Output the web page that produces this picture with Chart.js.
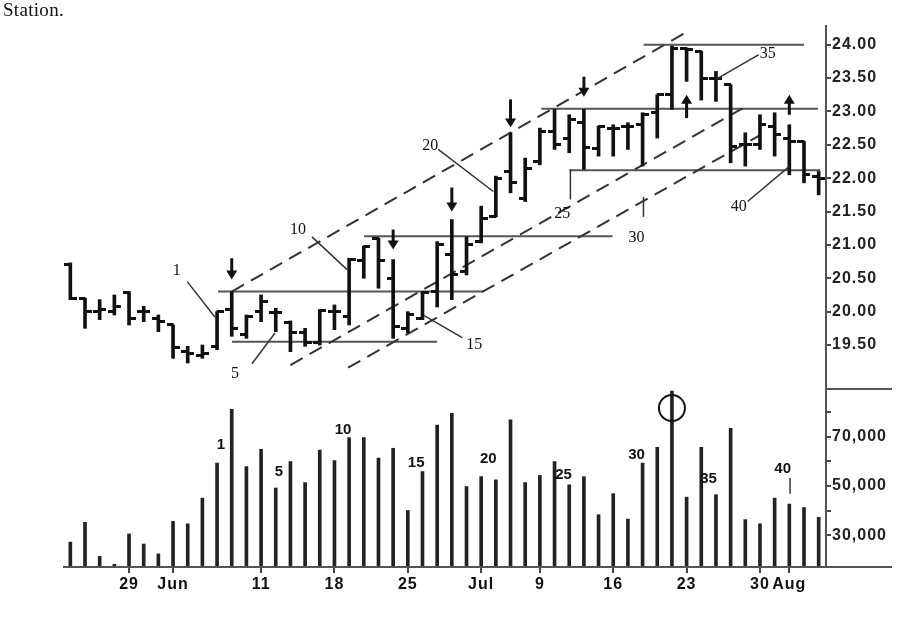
<!DOCTYPE html>
<html><head><meta charset="utf-8">
<script src="https://cdn.jsdelivr.net/npm/chart.js@4.4.1/dist/chart.umd.min.js"></script>
<style>
html,body{margin:0;padding:0;background:#fff;}
#wrap{position:relative;width:920px;height:618px;overflow:hidden;}
#title{position:absolute;left:3px;top:-1px;font:19px "Liberation Serif",serif;color:#111;letter-spacing:0.3px;}
canvas{position:absolute;left:0;top:0;}
</style></head><body>
<div id="wrap"><canvas id="c" width="920" height="618"></canvas><div id="title">Station.</div></div>
<script>
const dates = ['May 22','May 23','May 24','May 25','May 29','May 30','May 31','Jun 1','Jun 4','Jun 5','Jun 6','Jun 7','Jun 8','Jun 11','Jun 12','Jun 13','Jun 14','Jun 15','Jun 18','Jun 19','Jun 20','Jun 21','Jun 22','Jun 25','Jun 26','Jun 27','Jun 28','Jun 29','Jul 2','Jul 3','Jul 5','Jul 6','Jul 9','Jul 10','Jul 11','Jul 12','Jul 13','Jul 16','Jul 17','Jul 18','Jul 19','Jul 20','Jul 23','Jul 24','Jul 25','Jul 26','Jul 27','Jul 30','Jul 31','Aug 1','Aug 2','Aug 3'];
const tickIdx  = [4,7,13,18,23,28,32,37,42,47,49];
const tickText = ['29','Jun','11','18','25','Jul','9','16','23','30','Aug'];

const openP  = [20.70,20.20,20.00,20.00,20.29,20.00,19.90,19.80,19.40,19.35,19.48,20.03,19.65,20.00,19.98,19.83,19.68,19.53,20.00,19.93,20.77,21.10,20.50,19.75,19.90,20.30,20.85,20.60,21.05,21.42,22.10,21.70,22.25,22.70,22.60,22.83,22.45,22.75,22.78,22.80,22.98,23.25,23.95,23.90,23.50,23.40,22.50,22.50,22.78,22.60,22.55,22.03];
const highP  = [20.73,20.20,20.18,20.25,20.30,20.08,19.95,19.80,19.48,19.50,20.00,20.30,19.95,20.25,20.05,19.86,19.75,20.03,20.10,20.80,20.98,21.10,20.78,20.00,20.30,21.05,21.38,21.12,21.58,22.03,22.68,22.30,22.75,23.03,22.95,23.03,22.78,22.80,22.83,22.98,23.25,23.98,23.95,23.90,23.60,23.40,22.68,22.95,22.98,22.80,22.55,22.10];
const lowP   = [20.18,19.75,19.88,19.95,19.80,19.85,19.70,19.30,19.23,19.30,19.43,19.63,19.60,19.85,19.70,19.40,19.48,19.50,19.73,19.80,20.50,20.35,19.60,19.68,19.88,20.07,20.18,20.55,21.03,21.42,21.78,21.65,22.20,22.43,22.38,22.13,22.33,22.33,22.43,22.18,22.60,23.03,23.45,23.17,23.15,22.23,22.18,22.43,22.33,22.05,21.93,21.75];
const closeP = [20.20,20.00,20.03,20.08,19.90,20.00,19.85,19.46,19.38,19.38,20.00,19.75,19.93,20.15,19.98,19.68,19.53,20.02,20.00,20.78,20.97,20.77,19.78,19.95,20.28,21.00,20.55,21.00,21.40,22.00,21.93,22.15,22.70,22.50,22.88,22.46,22.77,22.75,22.78,22.95,23.25,23.95,23.93,23.50,23.50,22.48,22.50,22.80,22.65,22.55,22.05,22.00];
const volume = [27300,35300,21500,18300,30600,26500,22500,35700,34700,45100,59300,81100,57900,64900,49200,59900,51400,64600,60300,69600,69600,61300,65300,40100,55900,74700,79500,49800,53800,52500,76800,51400,54300,59900,50500,53800,38400,46900,36600,59300,65700,88500,45500,65700,46500,73400,36400,34700,45100,42700,41300,37300];

const priceTicks = [19.5,20,20.5,21,21.5,22,22.5,23,23.5,24];
const volTicks = [30000,40000,50000,60000,70000,80000];
const volLabelled = [30000,50000,70000];

// annotation values (bar index, price / volume)
const channelLines = [[11.0,20.30,42.1,24.20],[15.0,19.20,46.0,23.07],[18.93,19.16,47.05,22.65]];
const levelLines = [[20.30,10.07,28.15],[19.55,11.01,25.0],[21.13,20.02,36.95],[23.04,32.1,50.95],[22.12,34.02,51.1],[24.00,39.07,50.0]];
const leaders = [[7.97,20.45,9.85,19.92],[12.38,19.22,13.95,19.68],[16.47,21.12,18.86,20.63],[24.12,19.94,26.71,19.61],[25.07,22.43,28.83,21.80],[34.08,22.13,34.08,21.68],[39.06,21.72,39.06,21.42],[44.0,23.48,46.92,23.85],[46.16,21.65,48.96,22.17]];
const priceLabels = [['1',7.26,20.61],['5',11.22,19.07],['10',15.52,21.23],['15',27.53,19.50],['20',24.53,22.49],['25',33.53,21.47],['30',38.59,21.10],['35',47.53,23.87],['40',45.55,21.57]];
const volLabels = [['1',10.26,66650],['5',14.22,55740],['10',18.59,72700],['15',23.57,59380],['20',28.49,61000],['25',33.61,54530],['30',38.59,62600],['35',43.5,52900],['40',48.55,56950]];
const volLeader = [49.05,53300,49.05,46850];
const downArrows = [[11,20.80,20.48],[22,21.23,20.93],[26,21.86,21.50],[30,23.18,22.76],[35,23.52,23.22]];
const upArrows = [[42,22.90,23.25],[49,22.95,23.25]];
const circleMark = [41,81600];

function tickImg(side){
  const c=document.createElement('canvas'); c.width=13; c.height=3;
  const g=c.getContext('2d'); g.fillStyle='#111';
  if(side<0) g.fillRect(0,0,7,3); else g.fillRect(6,0,7,3);
  return c;
}

const spacing = {
  id:'spacing',
  beforeLayout(chart){ chart.ctx.letterSpacing='1px'; },
  beforeDraw(chart){ chart.ctx.letterSpacing='1px'; }
};

const annot = {
  id:'annot',
  afterDatasetsDraw(chart){
    const ctx=chart.ctx, xs=chart.scales.xA, yp=chart.scales.yP, yv=chart.scales.yV, ca=chart.chartArea;
    const X=i=>xs.getPixelForValue(i), P=v=>yp.getPixelForValue(v), V=v=>yv.getPixelForValue(v);
    ctx.save();
    ctx.letterSpacing='0px';
    ctx.strokeStyle='#333'; ctx.lineWidth=1.5;
    leaders.forEach(l=>{ctx.beginPath();ctx.moveTo(X(l[0]),P(l[1]));ctx.lineTo(X(l[2]),P(l[3]));ctx.stroke();});
    ctx.beginPath();ctx.moveTo(X(volLeader[0]),V(volLeader[1]));ctx.lineTo(X(volLeader[2]),V(volLeader[3]));ctx.stroke();
    ctx.fillStyle='#111'; ctx.textAlign='center'; ctx.textBaseline='middle';
    ctx.font='16px "Liberation Serif"';
    priceLabels.forEach(l=>ctx.fillText(l[0],X(l[1]),P(l[2])));
    ctx.font='bold 15px "Liberation Sans"';
    volLabels.forEach(l=>ctx.fillText(l[0],X(l[1]),V(l[2])));
    // arrows
    ctx.fillStyle='#111'; ctx.strokeStyle='#111'; ctx.lineWidth=3;
    downArrows.forEach(a=>{
      const x=X(a[0]), y0=P(a[1]), y1=P(a[2]);
      ctx.beginPath();ctx.moveTo(x,y0);ctx.lineTo(x,y1-6);ctx.stroke();
      ctx.beginPath();ctx.moveTo(x-5.5,y1-9);ctx.lineTo(x+5.5,y1-9);ctx.lineTo(x,y1);ctx.closePath();ctx.fill();
    });
    upArrows.forEach(a=>{
      const x=X(a[0]), y0=P(a[1]), y1=P(a[2]);
      ctx.beginPath();ctx.moveTo(x,y0);ctx.lineTo(x,y1+6);ctx.stroke();
      ctx.beginPath();ctx.moveTo(x-5.5,y1+9);ctx.lineTo(x+5.5,y1+9);ctx.lineTo(x,y1);ctx.closePath();ctx.fill();
    });
    // circle
    ctx.lineWidth=2; ctx.beginPath(); ctx.arc(X(circleMark[0]),V(circleMark[1]),13,0,Math.PI*2); ctx.stroke();
    // baseline and pane separator
    ctx.strokeStyle='#555'; ctx.lineWidth=2;
    ctx.beginPath(); ctx.moveTo(ca.left,ca.bottom); ctx.lineTo(892,ca.bottom); ctx.stroke();
    ctx.beginPath(); ctx.moveTo(ca.right,yp.bottom); ctx.lineTo(892,yp.bottom); ctx.stroke();
    ctx.restore();
  }
};

const lineSets = [];
channelLines.forEach(l=>lineSets.push({type:'line',xAxisID:'xA',yAxisID:'yP',data:[{x:l[0],y:l[1]},{x:l[2],y:l[3]}],borderColor:'#333',borderWidth:2,borderDash:[14,8],pointRadius:0,fill:false}));
levelLines.forEach(l=>lineSets.push({type:'line',xAxisID:'xA',yAxisID:'yP',data:[{x:l[1],y:l[0]},{x:l[2],y:l[0]}],borderColor:'#555',borderWidth:2,pointRadius:0,fill:false}));

const tickFont={family:'Liberation Sans',size:16,weight:'bold'};
new Chart(document.getElementById('c'),{
  type:'bar',
  data:{labels:dates,datasets:[
    {type:'bar',xAxisID:'x',yAxisID:'yP',data:lowP.map((l,i)=>[l,highP[i]]),backgroundColor:'#111',barThickness:3,grouped:false},
    {type:'line',xAxisID:'x',yAxisID:'yP',data:openP,showLine:false,pointStyle:tickImg(-1),pointRadius:3},
    {type:'line',xAxisID:'x',yAxisID:'yP',data:closeP,showLine:false,pointStyle:tickImg(1),pointRadius:3},
    {type:'bar',xAxisID:'x',yAxisID:'yV',data:volume,backgroundColor:'#222',barThickness:3,grouped:false},
    ...lineSets
  ]},
  options:{
    responsive:false,animation:false,devicePixelRatio:1,events:[],
    layout:{padding:{left:63,top:26,right:0,bottom:0}},
    plugins:{legend:{display:false},tooltip:{enabled:false}},
    scales:{
      x:{type:'category',offset:true,position:'bottom',
        grid:{offset:false,drawOnChartArea:false,drawTicks:true,tickLength:6,lineWidth:2,
          color:c=>tickIdx.includes(c.index)?'#444':'rgba(0,0,0,0)'},
        border:{display:false},
        ticks:{autoSkip:false,maxRotation:0,minRotation:0,padding:2,color:'#111',font:tickFont,
          callback:(v,i)=>{const k=tickIdx.indexOf(i);return k>=0?tickText[k]:'';}},
        afterFit:s=>{s.height=51;}},
      xA:{type:'linear',display:false,offset:false,min:-0.5,max:51.5,grid:{offset:false}},
      yP:{type:'linear',position:'right',stack:'s',stackWeight:2.04,min:18.84,max:24.28,
        afterBuildTicks:s=>{s.ticks=priceTicks.map(v=>({value:v}));},
        ticks:{autoSkip:false,padding:1,color:'#222',font:tickFont,callback:v=>Number(v).toFixed(2)},
        grid:{drawOnChartArea:false,tickLength:5,color:'#444',lineWidth:2},
        border:{color:'#555',width:2},
        afterFit:s=>{s.width=94;}},
      yV:{type:'linear',position:'right',stack:'s',stackWeight:1,min:17200,max:89300,
        afterBuildTicks:s=>{s.ticks=volTicks.map(v=>({value:v}));},
        ticks:{autoSkip:false,padding:1,color:'#222',font:tickFont,callback:v=>volLabelled.includes(v)?v.toLocaleString('en-US'):''},
        grid:{drawOnChartArea:false,tickLength:5,color:'#444',lineWidth:2},
        border:{color:'#555',width:2},
        afterFit:s=>{s.width=94;}}
    }
  },
  plugins:[spacing,annot]
});
</script>
</body></html>
